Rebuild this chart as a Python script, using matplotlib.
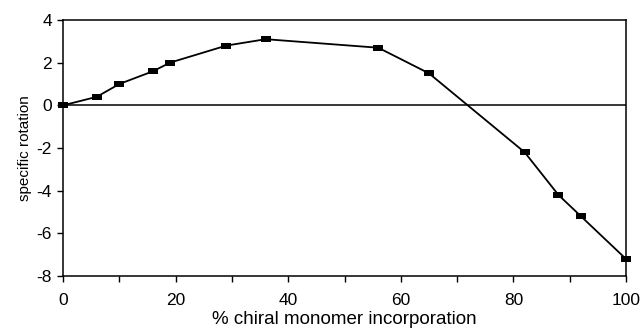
import matplotlib
matplotlib.use("Agg")
import matplotlib.pyplot as plt
from matplotlib.ticker import MultipleLocator

plt.rcParams["font.family"] = ["Liberation Sans", "DejaVu Sans"]
plt.rcParams["axes.unicode_minus"] = False

# % chiral monomer incorporation vs specific rotation
pct_chiral = [0, 6, 10, 16, 19, 29, 36, 56, 65, 82, 88, 92, 100]
spec_rot = [0.0, 0.4, 1.0, 1.6, 2.0, 2.8, 3.1, 2.7, 1.5, -2.2, -4.2, -5.2, -7.2]

# flat rectangle marker, like the original
rect = [(-1.5, -1), (1.5, -1), (1.5, 1), (-1.5, 1), (-1.5, -1)]

fig = plt.figure(figsize=(6.43, 3.31), dpi=100)
ax = fig.add_axes([0.098, 0.166, 0.8756, 0.7736])

ax.axhline(0, color="black", lw=1.1, zorder=1)
ax.plot(pct_chiral, spec_rot, color="black", lw=1.3, marker=rect,
        markersize=7, markeredgewidth=0, clip_on=False, zorder=3)

ax.set_xlim(0, 100)
ax.set_ylim(-8, 4)
ax.xaxis.set_major_locator(MultipleLocator(20))
ax.xaxis.set_minor_locator(MultipleLocator(10))
ax.yaxis.set_major_locator(MultipleLocator(2))
ax.tick_params(axis="both", which="both", direction="out", length=4,
               width=1, labelsize=12.5, colors="black")
ax.tick_params(axis="x", pad=8)
ax.tick_params(axis="y", pad=4)

for s in ax.spines.values():
    s.set_linewidth(1.1)
    s.set_color("black")

ax.set_xlabel("% chiral monomer incorporation", fontsize=13.5, labelpad=2.5)
ax.set_ylabel("specific rotation", fontsize=11, labelpad=3)

fig.savefig("out.png", dpi=100)
